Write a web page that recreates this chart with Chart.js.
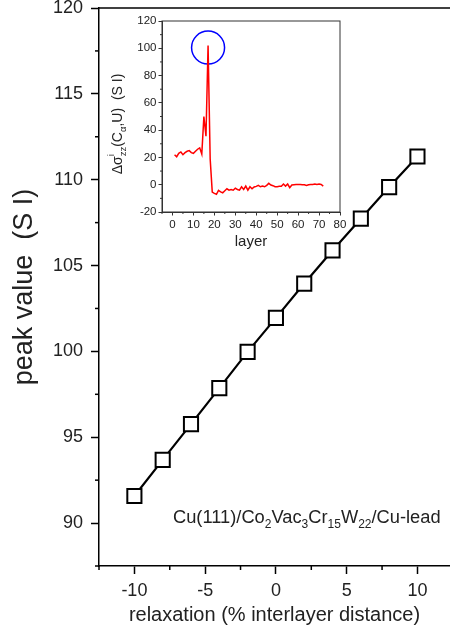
<!DOCTYPE html>
<html>
<head>
<meta charset="utf-8">
<script src="https://cdn.jsdelivr.net/npm/chart.js@4.4.1/dist/chart.umd.min.js"></script>
<style>
  html, body { margin: 0; padding: 0; background: #fff; }
  #wrap { position: relative; width: 450px; height: 638px; overflow: hidden; }
  #main { position: absolute; left: 0; top: 0; }
  #inset { position: absolute; left: 100px; top: 0; }
</style>
</head>
<body>
<div id="wrap">
  <canvas id="main" width="450" height="638"></canvas>
  <canvas id="inset" width="250" height="255"></canvas>
</div>
<script>
// ---------- data: main chart ----------
const relaxation = [-10, -8, -6, -4, -2, 0, 2, 4, 6, 8, 10];
const peakValue = [91.58, 93.68, 95.76, 97.86, 99.97, 101.95, 103.95, 105.88, 107.73, 109.57, 111.35];

// ---------- data: inset ----------
const layers = [1,2,3,4,5,6,7,8,9,10,11,12,13,14,15,16,17,18,19,20,21,22,23,24,25,26,27,28,29,30,31,32,33,34,35,36,37,38,39,40,41,42,43,44,45,46,47,48,49,50,51,52,53,54,55,56,57,58,59,60,61,62,63,64,65,66,67,68,69,70,71,72];
const deltaSigma = [22,20.5,23,24,22,23.5,24.5,25,23.5,23,24.5,26,27,22.5,50,35.5,102,19,-5.4,-6.4,-7,-4.2,-5.2,-5.9,-4.4,-3,-4,-3.5,-4,-2.5,-3.5,-4,-1.5,-3.5,-1,-4,-1.5,-3,-1.7,-1.2,-0.5,-1.5,-1,-1.5,-0.5,1,-0.2,-0.7,-1.5,-1.5,-1.2,-1.2,0.5,-1,0.5,-2.2,-0.2,0,0.2,0.2,0.2,0,0,-0.5,0,0.2,0.2,0.5,0.2,0.5,0.2,-1];
const highlightLayer = [17];
const highlightValue = [100.5];

// ---------- tick labels ----------
const mainXTicks = [-10, -5, 0, 5, 10];
const mainYTicks = [90, 95, 100, 105, 110, 115, 120];
const insetXTicks = [0, 10, 20, 30, 40, 50, 60, 70, 80];
const insetYTicks = [-20, 0, 20, 40, 60, 80, 100, 120];

const FONT = "'Liberation Sans', Arial, Helvetica, sans-serif";
const TXT = '#222';

function minorTicks(id, axes, color, width) {
  return {
    id: id,
    afterDraw(chart) {
      const ctx = chart.ctx;
      ctx.save();
      ctx.strokeStyle = color;
      ctx.lineWidth = width;
      for (const a of axes) {
        const s = chart.scales[a.axis];
        let v = Math.ceil((s.min - 1e-9) / a.step) * a.step;
        for (; v <= s.max + 1e-9; v += a.step) {
          const r = v / a.major;
          if (Math.abs(r - Math.round(r)) < 1e-6) continue;
          const p = s.getPixelForValue(v);
          ctx.beginPath();
          if (s.isHorizontal()) { ctx.moveTo(p, s.top); ctx.lineTo(p, s.top + a.len); }
          else { ctx.moveTo(s.right, p); ctx.lineTo(s.right - a.len, p); }
          ctx.stroke();
        }
      }
      ctx.restore();
    }
  };
}

function drawSegments(ctx, segs, x, y, fam) {
  let cx = x;
  for (const s of segs) {
    ctx.font = s.f + 'px ' + fam;
    ctx.fillText(s.t, cx, y + (s.dy || 0));
    if (!s.noAdv) cx += ctx.measureText(s.t).width;
  }
}
function segWidth(ctx, segs, fam) {
  let w = 0;
  for (const s of segs) { ctx.font = s.f + 'px ' + fam; if (!s.noAdv) w += ctx.measureText(s.t).width; }
  return w;
}

// ---------- main chart ----------
const mainExtras = {
  id: 'mainExtras',
  afterDraw(chart) {
    const ctx = chart.ctx, ca = chart.chartArea;
    ctx.save();
    ctx.strokeStyle = '#000';
    ctx.lineWidth = 1.5;
    ctx.beginPath();
    ctx.moveTo(ca.left, ca.top);
    ctx.lineTo(chart.width, ca.top);
    ctx.stroke();
    ctx.fillStyle = TXT;
    ctx.textBaseline = 'alphabetic';
    const b = 18.3, sb = 12, d = 5;
    const segs = [
      {t: 'Cu(111)/Co', f: b}, {t: '2', f: sb, dy: d},
      {t: 'Vac', f: b}, {t: '3', f: sb, dy: d},
      {t: 'Cr', f: b}, {t: '15', f: sb, dy: d},
      {t: 'W', f: b}, {t: '22', f: sb, dy: d},
      {t: '/Cu-lead', f: b}
    ];
    drawSegments(ctx, segs, ca.left + 74, ca.bottom - 43.5, FONT);
    ctx.restore();
  }
};

new Chart(document.getElementById('main'), {
  type: 'line',
  data: {
    datasets: [{
      data: relaxation.map((x, i) => ({x: x, y: peakValue[i]})),
      borderColor: '#000',
      borderWidth: 2.2,
      tension: 0,
      pointStyle: 'rect',
      pointRadius: 10,
      pointBorderWidth: 2,
      pointBorderColor: '#000',
      pointBackgroundColor: '#fff',
      fill: false
    }]
  },
  options: {
    responsive: false,
    animation: false,
    events: [],
    layout: { autoPadding: false, padding: { left: 0, right: 0, top: 8, bottom: 0 } },
    plugins: { legend: { display: false }, tooltip: { enabled: false } },
    scales: {
      x: {
        type: 'linear',
        min: -12.5, max: 12.3,
        afterFit: s => { s.height = 72; s.paddingLeft = 0; s.paddingRight = 0; },
        border: { display: true, color: '#000', width: 1.5 },
        grid: { drawOnChartArea: false, drawTicks: true, tickLength: 8, tickColor: '#000', tickWidth: 1.5 },
        ticks: {
          padding: 6, color: TXT,
          font: { family: FONT, size: 18 },
          callback: v => String(v)
        },
        afterBuildTicks: s => { s.ticks = mainXTicks.map(v => ({value: v})); },
        title: { display: true, text: 'relaxation (% interlayer distance)', color: TXT,
                 font: { family: FONT, size: 20 }, padding: { top: 0, bottom: 10.5 } }
      },
      y: {
        type: 'linear',
        min: 87.5, max: 120,
        afterFit: s => { s.width = 99; s.paddingTop = 0; s.paddingBottom = 0; },
        border: { display: true, color: '#000', width: 1.5 },
        grid: { drawOnChartArea: false, drawTicks: true, tickLength: 8, tickColor: '#000', tickWidth: 1.5 },
        ticks: {
          padding: 8, color: TXT,
          font: { family: FONT, size: 18 },
          callback: v => String(v)
        },
        afterBuildTicks: s => { s.ticks = mainYTicks.map(v => ({value: v})); },
        title: { display: true, text: 'peak value  (S I)', color: TXT,
                 font: { family: FONT, size: 27 }, padding: { top: 8, bottom: 0 } }
      }
    }
  },
  plugins: [minorTicks('mainMinor', [
    {axis: 'x', step: 2.5, major: 5, len: 4},
    {axis: 'y', step: 2.5, major: 5, len: 4}
  ], '#000', 1.5), mainExtras]
});

// ---------- inset chart ----------
const insetExtras = {
  id: 'insetExtras',
  afterDraw(chart) {
    const ctx = chart.ctx, ca = chart.chartArea;
    ctx.save();
    ctx.strokeStyle = '#333';
    ctx.lineWidth = 1;
    ctx.strokeRect(ca.left, ca.top, ca.right - ca.left, ca.bottom - ca.top);
    const b = 14, sb = 9.5;
    const segs = [
      {t: 'Δσ', f: b},
      {t: 'i', f: sb, dy: -8, noAdv: true},
      {t: 'zz', f: sb, dy: 4},
      {t: '(C', f: b},
      {t: 'α', f: sb, dy: 4},
      {t: ',U)  (S I)', f: b}
    ];
    ctx.fillStyle = TXT;
    ctx.textBaseline = 'alphabetic';
    ctx.translate(17, 124);
    ctx.rotate(-Math.PI / 2);
    const w = segWidth(ctx, segs, FONT);
    drawSegments(ctx, segs, -w / 2, 5, FONT);
    ctx.restore();
  }
};

new Chart(document.getElementById('inset'), {
  type: 'line',
  data: {
    datasets: [{
      data: layers.map((l, i) => ({x: l, y: deltaSigma[i]})),
      borderColor: '#ff0000',
      borderWidth: 1.5,
      pointRadius: 0,
      tension: 0,
      fill: false
    }, {
      type: 'scatter',
      data: highlightLayer.map((l, i) => ({x: l, y: highlightValue[i]})),
      showLine: false,
      pointStyle: 'circle',
      pointRadius: 16.5,
      pointBorderWidth: 1.5,
      pointBorderColor: '#0000ff',
      pointBackgroundColor: 'rgba(0,0,0,0)'
    }]
  },
  options: {
    responsive: false,
    animation: false,
    events: [],
    layout: { autoPadding: false, padding: { left: 0, right: 10, top: 21, bottom: 0 } },
    plugins: { legend: { display: false }, tooltip: { enabled: false } },
    scales: {
      x: {
        type: 'linear',
        min: -5, max: 80,
        afterFit: s => { s.height = 43; s.paddingLeft = 0; s.paddingRight = 0; },
        border: { display: true, color: '#333', width: 1 },
        grid: { drawOnChartArea: false, drawTicks: true, tickLength: 3.5, tickColor: '#333', tickWidth: 1 },
        ticks: {
          padding: 2, color: TXT, font: { family: FONT, size: 11.5 },
          callback: v => String(v)
        },
        afterBuildTicks: s => { s.ticks = insetXTicks.map(v => ({value: v})); },
        title: { display: true, text: 'layer', color: TXT,
                 font: { family: FONT, size: 15 }, padding: { top: 0, bottom: 4 } }
      },
      y: {
        type: 'linear',
        min: -20, max: 120,
        afterFit: s => { s.width = 62; s.paddingTop = 0; s.paddingBottom = 0; },
        border: { display: true, color: '#333', width: 1 },
        grid: { drawOnChartArea: false, drawTicks: true, tickLength: 3.5, tickColor: '#333', tickWidth: 1 },
        ticks: {
          padding: 2, color: TXT, font: { family: FONT, size: 11.5 },
          callback: v => String(v)
        },
        afterBuildTicks: s => { s.ticks = insetYTicks.map(v => ({value: v})); }
      }
    }
  },
  plugins: [minorTicks('insetMinor', [
    {axis: 'x', step: 5, major: 10, len: 2},
    {axis: 'y', step: 10, major: 20, len: 2}
  ], '#333', 1), insetExtras]
});
</script>
</body>
</html>
